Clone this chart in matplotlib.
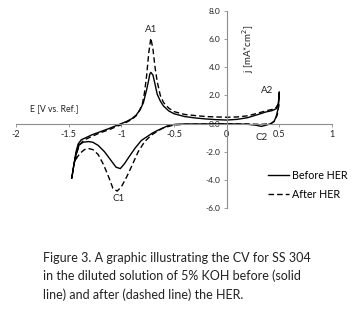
import matplotlib
matplotlib.use('Agg')
import matplotlib.pyplot as plt

# Before HER (solid), anodic then cathodic sweep
before_v = [-1.47, -1.45, -1.43, -1.41, -1.38, -1.33, -1.28, -1.2, -1.12, -1.05, -1.0,
            -0.95, -0.9, -0.86, -0.82, -0.79, -0.76, -0.74, -0.73, -0.72, -0.70, -0.68,
            -0.66, -0.63, -0.6, -0.55, -0.5, -0.4, -0.3, -0.2, -0.1, 0.0, 0.1, 0.2, 0.3,
            0.37, 0.43, 0.47, 0.49, 0.5,
            0.49, 0.47, 0.45, 0.42, 0.38, 0.33, 0.28, 0.2, 0.1, 0.0, -0.2, -0.4, -0.48,
            -0.55, -0.6, -0.66, -0.71, -0.76, -0.81, -0.87, -0.93, -0.97, -1.01, -1.05,
            -1.1, -1.16, -1.22, -1.27, -1.31, -1.36, -1.4, -1.43, -1.45, -1.47]
before_j = [-3.86, -2.9, -2.0, -1.45, -1.15, -0.98, -0.8, -0.58, -0.36, -0.15, 0.0,
            0.15, 0.35, 0.6, 1.0, 1.5, 2.4, 3.1, 3.5, 3.64, 3.45, 2.8,
            2.1, 1.6, 1.25, 0.9, 0.7, 0.5, 0.4, 0.33, 0.28, 0.25, 0.3, 0.42, 0.65,
            0.82, 0.92, 1.05, 1.4, 2.25,
            1.1, 0.5, 0.15, 0.0, -0.1, -0.2, -0.12, -0.05, -0.03, -0.02, -0.03, -0.03, -0.05,
            -0.12, -0.3, -0.5, -0.7, -0.95, -1.2, -1.75, -2.4, -2.85, -3.2, -3.1,
            -2.6, -2.0, -1.55, -1.33, -1.28, -1.32, -1.5, -2.2, -2.9, -3.86]

# After HER (dashed)
after_v = [-1.44, -1.42, -1.40, -1.36, -1.3, -1.2, -1.12, -1.05, -1.0, -0.95, -0.9,
           -0.86, -0.83, -0.8, -0.78, -0.76, -0.74, -0.72, -0.70, -0.68, -0.66, -0.63,
           -0.6, -0.55, -0.5, -0.4, -0.3, -0.2, -0.1, 0.0, 0.1, 0.2, 0.3, 0.37, 0.43,
           0.47, 0.5,
           0.48, 0.45, 0.42, 0.35, 0.28, 0.2, 0.0, -0.2, -0.4, -0.5, -0.6, -0.66, -0.72,
           -0.78, -0.84, -0.9, -0.95, -1.0, -1.04, -1.08, -1.12, -1.17, -1.22, -1.27,
           -1.31, -1.35, -1.39, -1.42, -1.44]
after_j = [-2.7, -2.0, -1.55, -1.2, -0.98, -0.65, -0.45, -0.22, -0.08, 0.1, 0.3,
           0.55, 0.9, 1.4, 2.2, 3.4, 5.0, 6.07, 5.3, 4.0, 3.0, 2.0,
           1.5, 1.1, 0.85, 0.65, 0.57, 0.5, 0.47, 0.45, 0.47, 0.55, 0.75, 0.9, 1.0,
           1.15, 1.5,
           0.6, 0.15, 0.0, -0.05, -0.05, -0.03, -0.02, -0.03, -0.05, -0.1, -0.3, -0.55, -0.85,
           -1.3, -2.0, -3.0, -3.8, -4.5, -4.8, -4.6, -3.8, -2.9, -2.2, -1.85,
           -1.78, -1.85, -2.1, -2.4, -2.7]

x_ticks = [-2, -1.5, -1, -0.5, 0, 0.5, 1]
x_labels = ['-2', '-1.5', '-1', '-0.5', '0', '0.5', '1']
y_ticks = [-6, -4, -2, 0, 2, 4, 6, 8]
y_labels = ['-6.0', '-4.0', '-2.0', '0.0', '2.0', '4.0', '6.0', '8.0']

caption = ['Figure 3. A graphic illustrating the CV for SS 304',
           'in the diluted solution of 5% KOH before (solid',
           'line) and after (dashed line) the HER.']

plt.rcParams['font.family'] = ['Lato', 'DejaVu Sans']

fig = plt.figure(figsize=(3.59, 3.14), dpi=100)
ax = fig.add_axes([16 / 359, 1 - 208 / 314, 316 / 359, 197 / 314])

ax.plot(before_v, before_j, color='black', linewidth=1.0, label='Before HER')
ax.plot(after_v, after_j, color='black', linewidth=1.0, linestyle=(0, (4, 2.2)),
        label='After HER')

ax.set_xlim(-2, 1)
ax.set_ylim(-6, 8)
ax.spines['left'].set_position(('data', 0))
ax.spines['bottom'].set_position(('data', 0))
ax.spines['top'].set_visible(False)
ax.spines['right'].set_visible(False)
for s in ('left', 'bottom'):
    ax.spines[s].set_color('#8c8c8c')
    ax.spines[s].set_linewidth(0.8)

ax.set_xticks(x_ticks)
ax.set_xticklabels(x_labels)
ax.set_yticks(y_ticks)
ax.set_yticklabels(y_labels)
ax.tick_params(axis='both', color='#8c8c8c', length=2.5, width=0.6,
               pad=2, labelcolor='#222222')
ax.tick_params(axis='x', labelsize=6.5)
ax.tick_params(axis='y', labelsize=6)

ax.text(-1.87, 0.85, 'E [V vs. Ref.]', fontsize=6.3, color='#222222')
ax.text(0.13, 5.3, 'j [mA*cm$^2$]', fontsize=7, rotation=90, va='center',
        color='#222222')
ax.text(-0.72, 6.5, 'A1', fontsize=7, ha='center', color='#222222')
ax.text(-1.03, -5.5, 'C1', fontsize=7, ha='center', color='#222222')
ax.text(0.38, 2.2, 'A2', fontsize=7, ha='center', color='#222222')
ax.text(0.33, -1.2, 'C2', fontsize=7, ha='center', color='#222222')

ax.legend(loc='upper left', bbox_to_anchor=(0.78, 0.22), frameon=False, fontsize=7.7,
          handlelength=2.0, handletextpad=0.3, labelspacing=0.75, borderpad=0)

for i, line in enumerate(caption):
    fig.text(43 / 359, 1 - (262 + 18.5 * i) / 314, line, fontsize=9,
             va='baseline', color='#222222')

fig.savefig('out.png', dpi=100)
